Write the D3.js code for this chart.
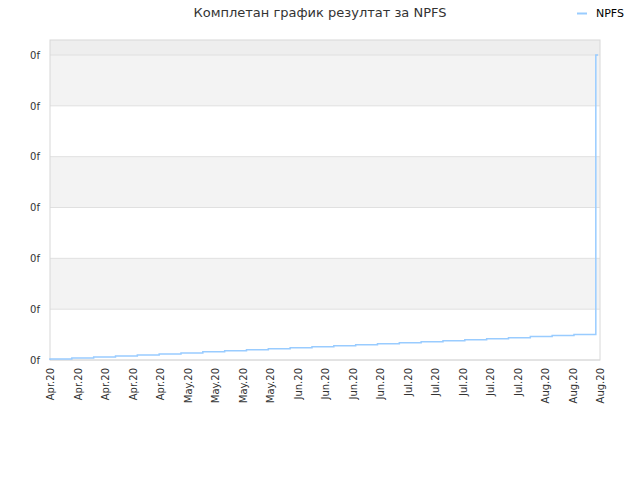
<!DOCTYPE html>
<html><head><meta charset="utf-8">
<script src="https://cdn.jsdelivr.net/npm/d3@7"></script>
<style>body{margin:0;background:#fff}text{font-family:"DejaVu Sans",Verdana,sans-serif}</style>
</head><body><svg id="c" width="640" height="480"></svg>
<script>
const title = "Комплетан график резултат за NPFS";
const seriesName = "NPFS";
const xLabels = ["Apr.20","Apr.20","Apr.20","Apr.20","Apr.20","May.20","May.20","May.20","May.20","Jun.20","Jun.20","Jun.20","Jun.20","Jul.20","Jul.20","Jul.20","Jul.20","Jul.20","Aug.20","Aug.20","Aug.20"];
const stepIndex = [0,1,2,3,4,5,6,7,8,9,10,11,12,13,14,15,16,17,18,19,20,21,22,23,24,25,25.1];
const stepValues = [0,1,2,3,4,5,6,7,8,9,10,11,12,13,14,15,16,17,18,19,20,21,22,23,24,25,300];
const yTicks = [0,50,100,150,200,250,300];
const yTickLabel = "0f";

const svg = d3.select("#c");
const L=50,R=600,T=40,B=360;
const y = d3.scaleLinear().domain([0,300]).range([B,55]);
const x = d3.scaleLinear().domain([0,25.1]).range([L,598]);
const xp = d3.scalePoint().domain(d3.range(xLabels.length)).range([L,R]);

svg.append("rect").attr("x",L).attr("y",T).attr("width",R-L).attr("height",y(300)-T).attr("fill","#eeeeee");
for(let i=0;i<yTicks.length-1;i++){
  if((yTicks.length-2-i)%2===0) svg.append("rect").attr("x",L).attr("y",y(yTicks[i+1])).attr("width",R-L).attr("height",y(yTicks[i])-y(yTicks[i+1])).attr("fill","#f3f3f3");
}
svg.append("g").selectAll("line").data(yTicks).join("line")
  .attr("x1",L).attr("x2",R).attr("y1",d=>y(d)).attr("y2",d=>y(d)).attr("stroke","#e0e0e0");
svg.append("rect").attr("x",L).attr("y",T).attr("width",R-L).attr("height",B-T).attr("fill","none").attr("stroke","#d8d8d8");

const ya = svg.append("g").attr("transform",`translate(${L},0)`).call(d3.axisLeft(y).tickValues(yTicks).tickFormat(()=>yTickLabel).tickSize(0).tickPadding(10));
ya.select(".domain").remove();
ya.selectAll("text").attr("font-size",10).attr("fill","#333");

const xa = svg.append("g").attr("transform",`translate(0,${B})`).call(d3.axisBottom(xp).tickFormat(i=>xLabels[i]).tickSize(0));
xa.select(".domain").remove();
xa.selectAll("text").attr("font-size",10).attr("fill","#333").attr("text-anchor","end")
  .attr("x",-8).attr("y",0).attr("dy","0.35em").attr("transform","rotate(-90)");

const data = stepIndex.map((v,i)=>[v,stepValues[i]]);
svg.append("path").datum(data).attr("fill","none").attr("stroke","#99ccff").attr("stroke-width",1.5)
  .attr("d",d3.line().x(d=>x(d[0])).y(d=>y(d[1])).curve(d3.curveStepBefore));

svg.append("text").attr("x",320).attr("y",17).attr("text-anchor","middle").attr("font-size",13).attr("fill","#333").text(title);
svg.append("line").attr("x1",577).attr("x2",587).attr("y1",13.5).attr("y2",13.5).attr("stroke","#99ccff").attr("stroke-width",2);
svg.append("text").attr("x",596).attr("y",17).attr("font-size",11).attr("fill","#000").text(seriesName);
</script></body></html>
